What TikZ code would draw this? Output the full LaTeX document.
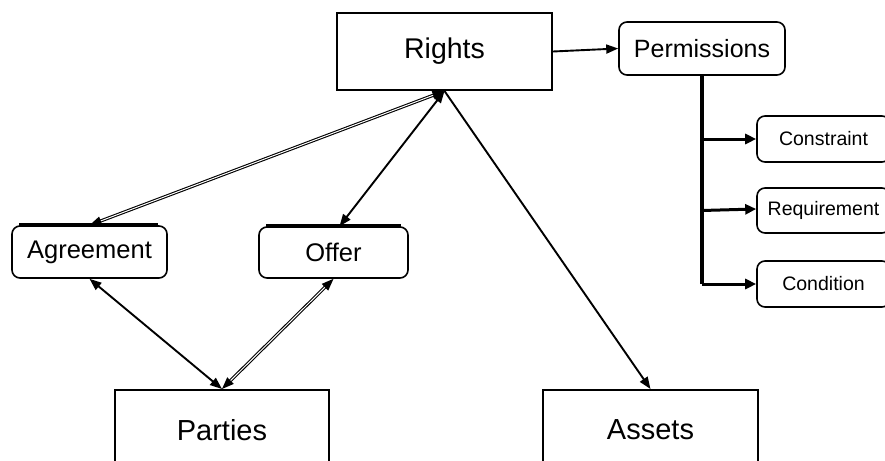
\documentclass[tikz,border=0pt]{standalone}
\usepackage{fontspec}
\setmainfont{Liberation Sans}
\usetikzlibrary{arrows.meta}
\begin{document}
\begin{tikzpicture}[x=1pt,y=-1pt,
  sqbox/.style={draw, line width=2pt, inner sep=0pt, font=\fontsize{28.5}{30}\selectfont},
  rbox/.style={draw, line width=1.6pt, rounded corners=8pt, inner sep=0pt},
  conn/.style={line width=1.9pt, {Triangle[length=12pt,width=9pt]}-{Triangle[length=12pt,width=9pt]}},
  dconn/.style={conn, double, double distance=1pt, line width=1.1pt},
  oneway/.style={line width=1.9pt, -{Triangle[length=12pt,width=9pt]}},
  branch/.style={line width=3pt, -{Triangle[length=11pt,width=10pt]}},
  trunk/.style={line width=4pt},
  topedge/.style={line width=3.6pt}
]
\useasboundingbox (0,0) rectangle (885,460);
\clip (0,0) rectangle (885,460);
\fill[white] (0,0) rectangle (885,460);

\node[sqbox, minimum width=215pt, minimum height=77pt] (rights) at (444.5,51.5) {Rights};
\node[sqbox, minimum width=214pt, minimum height=80pt, font=\fontsize{29}{30}\selectfont] (parties) at (222,430) {Parties};
\node[sqbox, minimum width=215pt, minimum height=80pt, font=\fontsize{29}{30}\selectfont] (assets) at (650.5,430) {Assets};

\node[rbox, minimum width=166pt, minimum height=53pt, font=\fontsize{25}{26}\selectfont] (perm) at (702,48.5) {Permissions};
\node[rbox, minimum width=155pt, minimum height=52pt, font=\fontsize{25.5}{27}\selectfont] (agr) at (89.5,252) {Agreement};
\node[rbox, minimum width=149pt, minimum height=51pt, font=\fontsize{25.5}{27}\selectfont] (offer) at (333.5,252.5) {Offer};

\node[rbox, minimum width=133pt, minimum height=46pt, font=\fontsize{19.5}{21}\selectfont] (cons) at (823.5,139) {Constraint};
\node[rbox, minimum width=133pt, minimum height=45pt, font=\fontsize{19.5}{21}\selectfont] (req) at (823.5,210.5) {Requirement};
\node[rbox, minimum width=133pt, minimum height=46pt, font=\fontsize{19.5}{21}\selectfont] (cond) at (823.5,284) {Condition};

% thick top edges on Agreement and Offer
\draw[topedge] ([xshift=8pt]agr.north west) -- ([xshift=-10pt]agr.north east);
\draw[topedge] ([xshift=8pt]offer.north west) -- ([xshift=-8pt]offer.north east);

% connectors
\draw[oneway] (rights.east) -- (perm.west);
\draw[dconn] (agr.north) -- (rights.south);
\draw[conn] ([xshift=6pt]offer.north) -- (rights.south);
\draw[oneway] (rights.south) -- (assets.north);
\draw[conn] (agr.south) -- (parties.north);
\draw[dconn] (offer.south) -- (parties.north);

% permissions tree
\coordinate (tend) at (perm.south |- cond.west);
\draw[trunk] (perm.south) -- (tend);
\draw[branch] (perm.south |- cons.west) -- (cons.west);
\draw[branch] (perm.south |- req.west) -- ([yshift=1.5pt]req.west);
\draw[branch] (tend) -- (cond.west);
\end{tikzpicture}
\end{document}
